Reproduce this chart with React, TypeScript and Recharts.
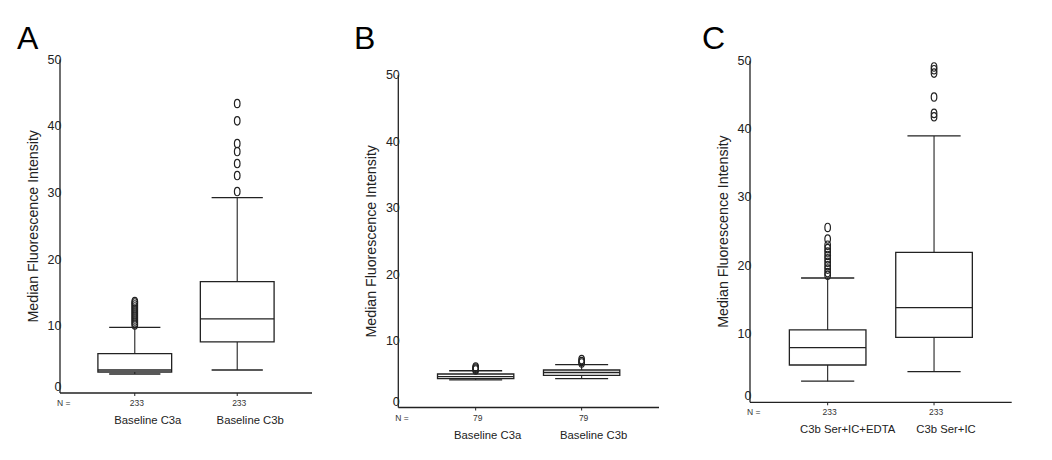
import React from 'react';
import { ComposedChart, XAxis, YAxis, Scatter, ReferenceArea, ReferenceLine, Label } from 'recharts';

const FONT = "'Liberation Sans', Arial, Helvetica, sans-serif";
const INK = '#222';

// ---------- Panel A ----------
const categoriesA = ['Baseline C3a', 'Baseline C3b'];
const countsA = [233, 233];
const lowWhiskerA = [2.85, 3.45];
const q1A = [3.15, 7.65];
const medianA = [3.45, 11.1];
const q3A = [5.9, 16.7];
const highWhiskerA = [9.85, 29.3];
const outliersA1 = [10.2, 10.5, 10.8, 11.1, 11.4, 11.7, 12.0, 12.3, 12.6, 12.9, 13.2, 13.5, 13.7];
const outliersA2 = [30.2, 32.6, 34.4, 36.2, 37.4, 40.8, 43.4];

// ---------- Panel B ----------
const categoriesB = ['Baseline C3a', 'Baseline C3b'];
const countsB = [79, 79];
const lowWhiskerB = [4.14, 4.33];
const q1B = [4.33, 4.84];
const medianB = [4.65, 5.26];
const q3B = [5.04, 5.64];
const highWhiskerB = [5.53, 6.44];
const outliersB1 = [5.65, 5.8, 5.95, 6.1];
const outliersB2 = [6.7, 6.9, 7.2];

// ---------- Panel C ----------
const categoriesC = ['C3b Ser+IC+EDTA', 'C3b Ser+IC'];
const countsC = [233, 233];
const lowWhiskerC = [3.1, 4.5];
const q1C = [5.46, 9.5];
const medianC = [8.0, 13.85];
const q3C = [10.6, 21.95];
const highWhiskerC = [18.2, 39.0];
const outliersC1 = [18.6, 19.0, 19.5, 20.0, 20.5, 21.0, 21.5, 22.0, 22.5, 23.0, 23.9, 25.6];
const outliersC2 = [41.8, 42.3, 44.7, 48.2, 48.7, 49.1];

const yTicks = [0, 10, 20, 30, 40, 50];
const xPositions = [1, 2];
const panelLetters = ['A', 'B', 'C'];
const yTitle = 'Median Fluorescence Intensity';
const nLabel = 'N =';

// layout (not data)
const BOX_HALF = 0.36;
const CAP_HALF = 0.25;
const X_DOMAIN: [number, number] = [0.27, 2.73];

type PanelCfg = {
  left: number;
  width: number;
  margin: { top: number; right: number; bottom: number; left: number };
  labelDx: number[];
};

const cfgA: PanelCfg = { left: 0, width: 345, margin: { top: 59.5, right: 33, bottom: 22, left: 20 }, labelDx: [13, 13] };
const cfgB: PanelCfg = { left: 345, width: 345, margin: { top: 75, right: 31, bottom: 7.5, left: 13.3 }, labelDx: [12, 12] };
const cfgC: PanelCfg = { left: 690, width: 362, margin: { top: 60.8, right: 40.3, bottom: 12.7, left: 20 }, labelDx: [20, 12] };

type PanelProps = {
  cfg: PanelCfg;
  cats: string[];
  counts: number[];
  lo: number[];
  q1: number[];
  med: number[];
  q3: number[];
  hi: number[];
  outs: number[][];
};

function Panel({ cfg, cats, counts, lo, q1, med, q3, hi, outs }: PanelProps) {
  const outlierData = outs.flatMap((arr, i) => arr.map((v) => ({ x: xPositions[i], y: v })));

  const renderXTick = (p: any) => {
    const idx = xPositions.indexOf(p.payload.value);
    if (idx < 0) return <g />;
    return (
      <g>
        <text x={p.x + 2} y={p.y + 7} textAnchor="middle" dominantBaseline="central" fontSize={8.5} fill="#333" fontFamily={FONT}>
          {counts[idx]}
        </text>
        <text x={p.x + cfg.labelDx[idx]} y={p.y + 24} textAnchor="middle" dominantBaseline="central" fontSize={11.3} fill={INK} fontFamily={FONT}>
          {cats[idx]}
        </text>
      </g>
    );
  };

  const renderYTick = (p: any) => {
    const v = p.payload.value;
    const dy = v === 0 ? -6 : 0;
    return (
      <text x={p.x + 1.5} y={p.y + dy} textAnchor="end" dominantBaseline="central" fontSize={12.5} fill={INK} fontFamily={FONT}>
        {v}
      </text>
    );
  };

  return (
    <div style={{ position: 'absolute', left: cfg.left, top: 0 }}>
      <ComposedChart width={cfg.width} height={460} margin={cfg.margin}>
        <XAxis
          type="number"
          dataKey="x"
          domain={X_DOMAIN}
          allowDataOverflow
          ticks={xPositions}
          height={45}
          tickSize={3}
          tickMargin={0}
          axisLine={{ stroke: INK, strokeWidth: 1.3 }}
          tickLine={{ stroke: INK }}
          tick={renderXTick}
        >
          <Label
            content={(lp: any) => {
              const vb = lp.viewBox || {};
              return (
                <text x={vb.x - 3} y={vb.y + 10} dominantBaseline="central" fontSize={8.5} fill="#333" fontFamily={FONT}>
                  {nLabel}
                </text>
              );
            }}
          />
        </XAxis>
        <YAxis
          type="number"
          dataKey="y"
          domain={[0, 50]}
          allowDataOverflow
          ticks={yTicks}
          width={40}
          tickLine={false}
          tickSize={0}
          tickMargin={0}
          axisLine={{ stroke: INK, strokeWidth: 1.3 }}
          tick={renderYTick}
        >
          <Label
            content={(lp: any) => {
              const vb = lp.viewBox || {};
              const cx = vb.x + vb.width - 27;
              const cy = vb.y + vb.height / 2;
              return (
                <text
                  x={cx}
                  y={cy}
                  transform={`rotate(-90 ${cx} ${cy})`}
                  textAnchor="middle"
                  dominantBaseline="central"
                  fontSize={14.2}
                  fill={INK}
                  fontFamily={FONT}
                >
                  {yTitle}
                </text>
              );
            }}
          />
        </YAxis>
        {xPositions.map((xc, i) => (
          <React.Fragment key={i}>
            <ReferenceArea
              x1={xc - BOX_HALF}
              x2={xc + BOX_HALF}
              y1={q1[i]}
              y2={q3[i]}
              fill="none"
              fillOpacity={0}
              stroke={INK}
              strokeWidth={1.3}
              ifOverflow="visible"
            />
            <ReferenceLine segment={[{ x: xc - BOX_HALF, y: med[i] }, { x: xc + BOX_HALF, y: med[i] }]} stroke={INK} strokeWidth={1.3} ifOverflow="visible" />
            <ReferenceLine segment={[{ x: xc, y: q3[i] }, { x: xc, y: hi[i] }]} stroke={INK} strokeWidth={1.1} ifOverflow="visible" />
            <ReferenceLine segment={[{ x: xc, y: q1[i] }, { x: xc, y: lo[i] }]} stroke={INK} strokeWidth={1.1} ifOverflow="visible" />
            <ReferenceLine segment={[{ x: xc - CAP_HALF, y: hi[i] }, { x: xc + CAP_HALF, y: hi[i] }]} stroke={INK} strokeWidth={1.3} ifOverflow="visible" />
            <ReferenceLine segment={[{ x: xc - CAP_HALF, y: lo[i] }, { x: xc + CAP_HALF, y: lo[i] }]} stroke={INK} strokeWidth={1.3} ifOverflow="visible" />
          </React.Fragment>
        ))}
        <Scatter
          data={outlierData}
          dataKey="y"
          isAnimationActive={false}
          shape={(sp: any) => (
            <ellipse cx={sp.cx} cy={sp.cy} rx={2.8} ry={4.2} fill="none" stroke={INK} strokeWidth={1.2} />
          )}
        />
      </ComposedChart>
    </div>
  );
}

const letterX = [17, 354, 702];

export default function App() {
  return (
    <div style={{ position: 'absolute', left: 0, top: 0, width: 1052, height: 460, background: '#fff', fontFamily: FONT }}>
      <Panel cfg={cfgA} cats={categoriesA} counts={countsA} lo={lowWhiskerA} q1={q1A} med={medianA} q3={q3A} hi={highWhiskerA} outs={[outliersA1, outliersA2]} />
      <Panel cfg={cfgB} cats={categoriesB} counts={countsB} lo={lowWhiskerB} q1={q1B} med={medianB} q3={q3B} hi={highWhiskerB} outs={[outliersB1, outliersB2]} />
      <Panel cfg={cfgC} cats={categoriesC} counts={countsC} lo={lowWhiskerC} q1={q1C} med={medianC} q3={q3C} hi={highWhiskerC} outs={[outliersC1, outliersC2]} />
      <svg width={1052} height={460} style={{ position: 'absolute', left: 0, top: 0, pointerEvents: 'none' }}>
        {panelLetters.map((l, i) => (
          <text key={l} x={letterX[i]} y={48.5} fontSize={32} fill="#000" fontFamily={FONT}>
            {l}
          </text>
        ))}
      </svg>
    </div>
  );
}
